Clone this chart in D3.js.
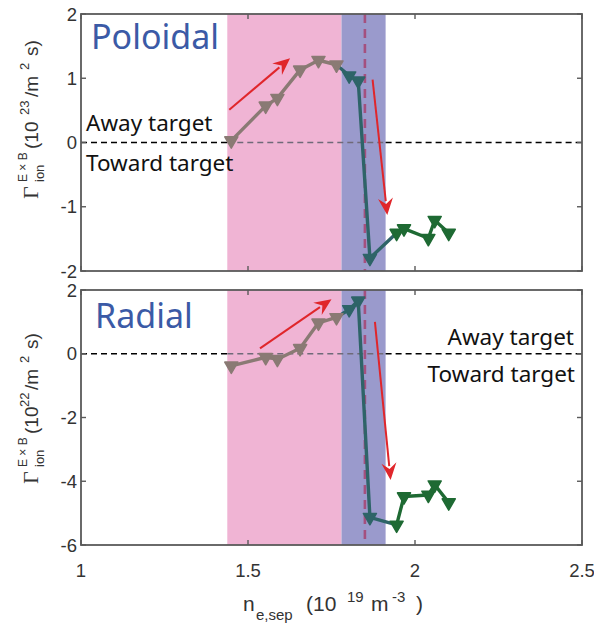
<!DOCTYPE html>
<html>
<head>
<meta charset="utf-8">
<script src="https://cdn.jsdelivr.net/npm/d3@7"></script>
<style>
  html, body { margin: 0; padding: 0; background: #fff; }
  svg { display: block; }
</style>
</head>
<body>
<svg id="chart" width="594" height="624"></svg>
<script>
// Separatrix density for each run (10^19 m^-3), split by regime
const xAttached   = [1.450, 1.553, 1.588, 1.656, 1.711, 1.765];
const xTransition = [1.803, 1.830, 1.865];
const xDetached   = [1.945, 1.967, 2.040, 2.059, 2.101];

// Poloidal E x B ion flux (10^23 /m^2 s)
const polAttached   = [0.03, 0.57, 0.69, 1.13, 1.28, 1.21];
const polTransition = [1.04, 0.96, -1.80];
const polDetached   = [-1.41, -1.34, -1.49, -1.21, -1.41];

// Radial E x B ion flux (10^22 /m^2 s)
const radAttached   = [-0.38, -0.11, -0.17, 0.17, 0.97, 1.14];
const radTransition = [1.39, 1.66, -5.13];
const radDetached   = [-5.37, -4.48, -4.43, -4.11, -4.67];

// Shaded density bands and the marked density
const bandAttached   = [1.438, 1.780];
const bandTransition = [1.780, 1.912];
const markDensity    = 1.85;

// Trend arrows [x0, y0, x1, y1]
const polArrows = [[1.444, 0.51, 1.626, 1.31], [1.873, 0.98, 1.917, -1.13]];
const radArrows = [[1.536, 0.17, 1.750, 1.71], [1.880, 1.00, 1.927, -3.96]];

const xTicks      = [1, 1.5, 2, 2.5];
const xTickLabels = ["1", "1.5", "2", "2.5"];
const polTicks = [-2, -1, 0, 1, 2];
const radTicks = [-6, -4, -2, 0, 2];

const C = {
  attached: "#8a7a74",
  transition: "#2e6468",
  detached: "#1e6a33",
  pink: "#f0b4d4",
  blue: "#9a9acc",
  mark: "#a4507f",
  arrow: "#e0262b",
  frame: "#5a5a5a",
  title: "#3b5aa6"
};

const svg = d3.select("#chart");
const x = d3.scaleLinear().domain([1, 2.5]).range([81, 582]);

function panel(opts) {
  const y = d3.scaleLinear().domain(opts.domain).range(opts.range);
  const g = svg.append("g");
  const [y0, y1] = opts.range; // bottom, top

  // shaded bands
  g.append("rect").attr("x", x(bandAttached[0])).attr("y", y1)
    .attr("width", x(bandAttached[1]) - x(bandAttached[0])).attr("height", y0 - y1)
    .attr("fill", C.pink);
  g.append("rect").attr("x", x(bandTransition[0])).attr("y", y1)
    .attr("width", x(bandTransition[1]) - x(bandTransition[0])).attr("height", y0 - y1)
    .attr("fill", C.blue);

  // zero reference line, muted inside the bands
  const zeroSegs = [[1, bandAttached[0], "#000"], [bandAttached[0], bandTransition[1], "#6f6a78"], [bandTransition[1], 2.5, "#000"]];
  zeroSegs.forEach(([a, b, col]) => {
    g.append("line").attr("x1", x(a)).attr("x2", x(b)).attr("y1", y(0)).attr("y2", y(0))
      .attr("stroke", col).attr("stroke-width", 1.6).attr("stroke-dasharray", "6,4");
  });

  // marked density
  g.append("line").attr("x1", x(markDensity)).attr("x2", x(markDensity))
    .attr("y1", y1).attr("y2", y0)
    .attr("stroke", C.mark).attr("stroke-width", 2.6).attr("stroke-dasharray", "9,6");

  // annotation text
  g.append("text").attr("x", opts.titleX).attr("y", opts.titleY)
    .attr("font-family", "'Noto Sans', sans-serif").attr("font-size", 34)
    .attr("fill", C.title).text(opts.title);
  opts.notes.forEach(n => {
    g.append("text").attr("x", n.x).attr("y", n.y).attr("text-anchor", n.anchor)
      .attr("font-family", "'Noto Sans', sans-serif").attr("font-size", 22.5)
      .attr("fill", "#111").text(n.text);
  });

  // series lines
  const line = d3.line().x(d => x(d[0])).y(d => y(d[1]));
  const att = xAttached.map((v, i) => [v, opts.att[i]]);
  const tra = xTransition.map((v, i) => [v, opts.tra[i]]);
  const det = xDetached.map((v, i) => [v, opts.det[i]]);
  const lw = 3.4;
  g.append("path").datum(att).attr("d", line).attr("fill", "none")
    .attr("stroke", C.attached).attr("stroke-width", lw).attr("stroke-linejoin", "round");
  g.append("path").datum(det).attr("d", line).attr("fill", "none")
    .attr("stroke", C.detached).attr("stroke-width", lw).attr("stroke-linejoin", "round");
  g.append("path").datum([att[att.length - 1], ...tra, det[0]]).attr("d", line).attr("fill", "none")
    .attr("stroke", C.transition).attr("stroke-width", lw).attr("stroke-linejoin", "round");

  // downward triangle markers
  const tri = d3.symbol().type(d3.symbolTriangle).size(74);
  [[att, C.attached], [tra, C.transition], [det, C.detached]].forEach(([pts, col]) => {
    g.selectAll(null).data(pts).enter().append("path")
      .attr("d", tri)
      .attr("transform", d => `translate(${x(d[0])},${y(d[1])}) rotate(180)`)
      .attr("fill", col).attr("stroke", col).attr("stroke-width", 1.5)
      .attr("stroke-linejoin", "round");
  });

  // red trend arrows
  opts.arrows.forEach(a => {
    const xa = x(a[0]), ya = y(a[1]), xb = x(a[2]), yb = y(a[3]);
    const ang = Math.atan2(yb - ya, xb - xa);
    const L = 17, W = 7.5;
    const bx = xb - L * Math.cos(ang), by = yb - L * Math.sin(ang);
    g.append("line").attr("x1", xa).attr("y1", ya).attr("x2", bx + 3 * Math.cos(ang)).attr("y2", by + 3 * Math.sin(ang))
      .attr("stroke", C.arrow).attr("stroke-width", 2);
    const px = -Math.sin(ang), py = Math.cos(ang);
    g.append("path")
      .attr("d", `M${xb},${yb}L${bx + W * px},${by + W * py}L${bx + 0.35 * L * Math.cos(ang)},${by + 0.35 * L * Math.sin(ang)}L${bx - W * px},${by - W * py}Z`)
      .attr("fill", C.arrow);
  });

  // frame with inward ticks on all four sides
  g.append("rect").attr("x", x(1)).attr("y", y1).attr("width", x(2.5) - x(1)).attr("height", y0 - y1)
    .attr("fill", "none").attr("stroke", C.frame).attr("stroke-width", 1.8);
  const tk = 5;
  xTicks.forEach(t => {
    g.append("line").attr("x1", x(t)).attr("x2", x(t)).attr("y1", y0).attr("y2", y0 - tk).attr("stroke", C.frame).attr("stroke-width", 1.4);
    g.append("line").attr("x1", x(t)).attr("x2", x(t)).attr("y1", y1).attr("y2", y1 + tk).attr("stroke", C.frame).attr("stroke-width", 1.4);
  });
  opts.ticks.forEach(t => {
    g.append("line").attr("x1", x(1)).attr("x2", x(1) + tk).attr("y1", y(t)).attr("y2", y(t)).attr("stroke", C.frame).attr("stroke-width", 1.4);
    g.append("line").attr("x1", x(2.5)).attr("x2", x(2.5) - tk).attr("y1", y(t)).attr("y2", y(t)).attr("stroke", C.frame).attr("stroke-width", 1.4);
    g.append("text").attr("x", x(1) - 4).attr("y", y(t) + 6.5).attr("text-anchor", "end")
      .attr("font-family", "'Liberation Sans', Arial, sans-serif").attr("font-size", 18.5)
      .attr("fill", "#333").text(t);
  });

  // rotated y-axis label
  const lab = svg.append("text")
    .attr("transform", `translate(38,${opts.labelY}) rotate(-90)`)
    .attr("font-family", "'Liberation Sans', Arial, sans-serif").attr("fill", "#333");
  lab.append("tspan").attr("x", 0).attr("y", 0).attr("font-family", "'Liberation Serif', serif").attr("font-size", 22).text("Γ");
  lab.append("tspan").attr("x", 17).attr("y", 6).attr("font-size", 13).text("ion");
  lab.append("tspan").attr("x", 17).attr("y", -11).attr("font-size", 12).text("E × B");
  let p = 50;
  opts.unit.forEach(u => {
    lab.append("tspan").attr("x", p).attr("y", u.sup ? -9 : 0).attr("font-size", u.sup ? 13 : 19).text(u.t);
    p += u.w;
  });
  return y;
}

panel({
  domain: [-2, 2], range: [271, 14], ticks: polTicks,
  att: polAttached, tra: polTransition, det: polDetached,
  arrows: polArrows,
  title: "Poloidal", titleX: 91, titleY: 49,
  notes: [
    { text: "Away target", x: 86, y: 131, anchor: "start" },
    { text: "Toward target", x: 86, y: 171, anchor: "start" }
  ],
  labelY: 199,
  unit: [{ t: "(10", w: 34 }, { t: "23", sup: true, w: 18 }, { t: "/m", w: 27 }, { t: "2", sup: true, w: 14 }, { t: "s)", w: 20 }]
});

panel({
  domain: [-6, 2], range: [545, 290], ticks: radTicks,
  att: radAttached, tra: radTransition, det: radDetached,
  arrows: radArrows,
  title: "Radial", titleX: 95, titleY: 328,
  notes: [
    { text: "Away target", x: 574, y: 345, anchor: "end" },
    { text: "Toward target", x: 575, y: 382, anchor: "end" }
  ],
  labelY: 484,
  unit: [{ t: "(10", w: 27 }, { t: "22", sup: true, w: 17 }, { t: "/m", w: 27 }, { t: "2", sup: true, w: 14 }, { t: "s)", w: 20 }]
});

// x tick labels and x-axis title
xTicks.forEach((t, i) => {
  svg.append("text").attr("x", x(t)).attr("y", 577).attr("text-anchor", "middle")
    .attr("font-family", "'Liberation Sans', Arial, sans-serif").attr("font-size", 18.5)
    .attr("fill", "#333").text(xTickLabels[i]);
});
const xl = svg.append("text")
  .attr("font-family", "'Liberation Sans', Arial, sans-serif").attr("fill", "#333").attr("font-size", 21);
xl.append("tspan").attr("x", 243).attr("y", 611).text("n");
xl.append("tspan").attr("x", 256).attr("y", 620).attr("font-size", 15).text("e,sep");
xl.append("tspan").attr("x", 306).attr("y", 611).text("(10");
xl.append("tspan").attr("x", 347).attr("y", 602).attr("font-size", 15).text("19");
xl.append("tspan").attr("x", 371).attr("y", 611).text("m");
xl.append("tspan").attr("x", 392).attr("y", 602).attr("font-size", 15).text("-3");
xl.append("tspan").attr("x", 416).attr("y", 611).text(")");
</script>
</body>
</html>
